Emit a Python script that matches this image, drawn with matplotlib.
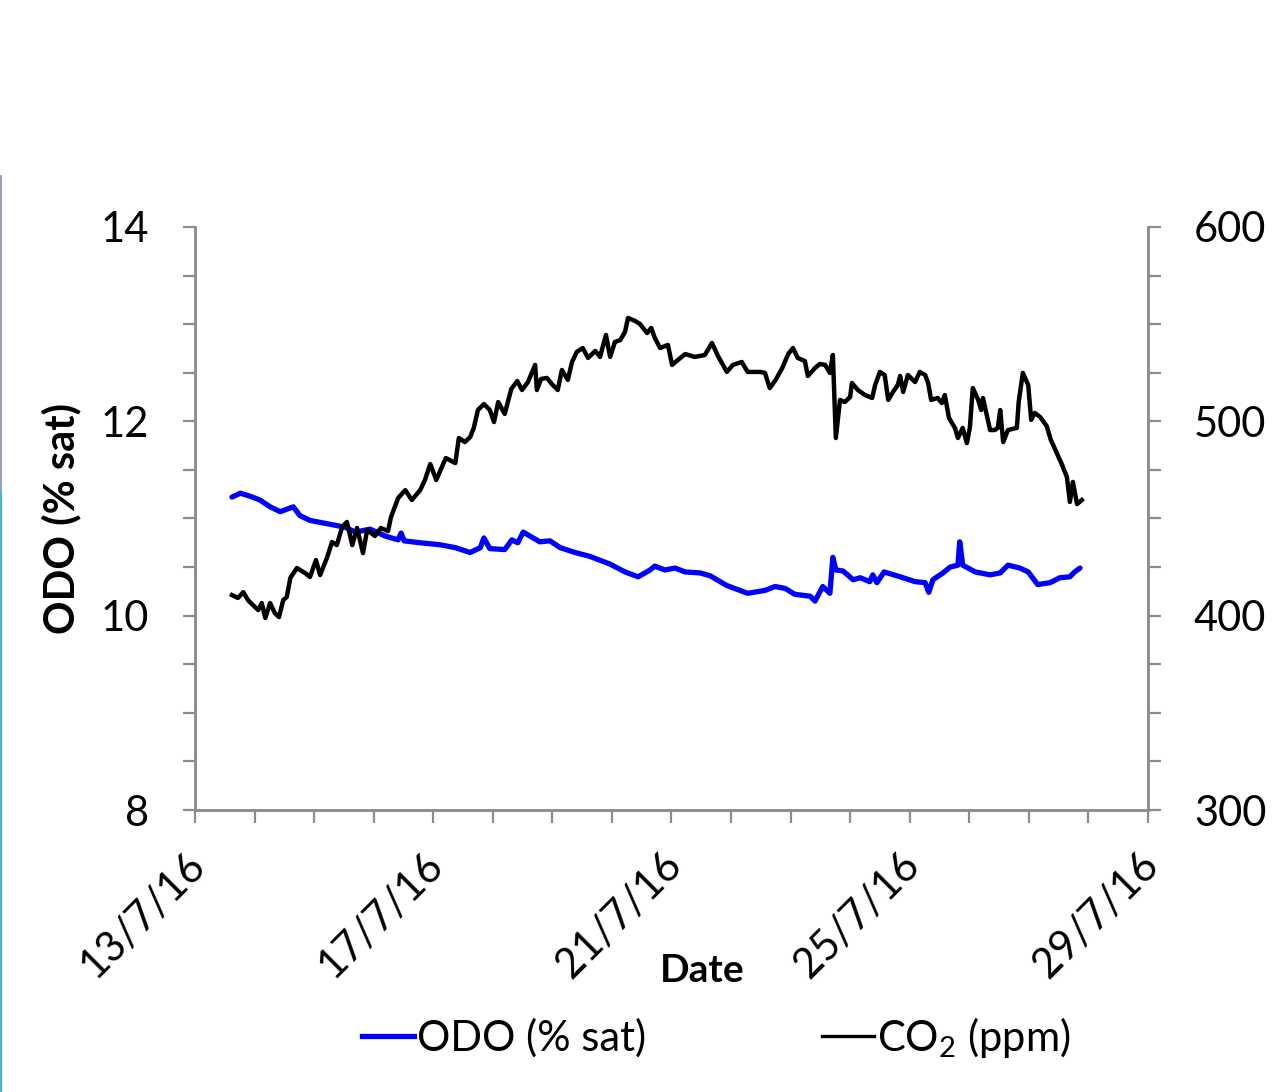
import matplotlib
matplotlib.use("Agg")
import matplotlib.pyplot as plt
import matplotlib.dates as mdates
import matplotlib.transforms as mtransforms
from matplotlib.lines import Line2D
from matplotlib.patches import Rectangle
import pandas as pd

plt.rcParams['font.family'] = ['Lato', 'DejaVu Sans']
plt.rcParams['mathtext.fontset'] = 'custom'
plt.rcParams['mathtext.rm'] = 'Lato'

# day of July 2016 (fractional) and ODO (% sat)
odo_day = [13.62, 13.76, 13.92, 14.09, 14.26, 14.43, 14.65, 14.76, 14.93, 15.10,
           15.27, 15.52, 15.69, 15.94, 16.19, 16.41, 16.46, 16.51, 16.78, 17.11,
           17.37, 17.62, 17.79, 17.85, 17.95, 18.20, 18.32, 18.42, 18.51, 18.62,
           18.79, 18.96, 19.13, 19.38, 19.63, 19.80, 19.97, 20.22, 20.44, 20.64,
           20.72, 20.89, 21.06, 21.23, 21.48, 21.65, 21.93, 22.28, 22.57, 22.74,
           22.91, 23.07, 23.33, 23.41, 23.54, 23.66, 23.71, 23.76, 23.88, 24.05,
           24.17, 24.33, 24.38, 24.45, 24.57, 24.84, 25.09, 25.26, 25.32, 25.39,
           25.56, 25.68, 25.81, 25.84, 25.89, 26.10, 26.35, 26.52, 26.65, 26.85,
           26.99, 27.15, 27.36, 27.52, 27.69, 27.77, 27.86]
odo_val = [11.22, 11.26, 11.23, 11.19, 11.12, 11.07, 11.12, 11.03, 10.98, 10.96,
           10.94, 10.91, 10.86, 10.89, 10.82, 10.78, 10.85, 10.77, 10.75, 10.73,
           10.70, 10.65, 10.70, 10.80, 10.69, 10.68, 10.78, 10.75, 10.86, 10.82,
           10.76, 10.77, 10.70, 10.65, 10.61, 10.57, 10.53, 10.45, 10.40, 10.47,
           10.51, 10.47, 10.49, 10.45, 10.44, 10.41, 10.31, 10.23, 10.26, 10.30,
           10.28, 10.22, 10.20, 10.15, 10.30, 10.23, 10.60, 10.47, 10.46, 10.37,
           10.39, 10.35, 10.42, 10.34, 10.45, 10.40, 10.35, 10.34, 10.24, 10.37,
           10.44, 10.50, 10.52, 10.76, 10.52, 10.45, 10.42, 10.44, 10.52, 10.49,
           10.45, 10.32, 10.34, 10.39, 10.40, 10.45, 10.49]

# day of July 2016 (fractional) and CO2 (ppm)
co2_day = [13.62, 13.72, 13.81, 13.89, 13.97, 14.06, 14.12, 14.18, 14.26, 14.34,
           14.41, 14.48, 14.54, 14.60, 14.71, 14.85, 14.93, 15.03, 15.10, 15.22,
           15.30, 15.38, 15.47, 15.55, 15.64, 15.72, 15.82, 15.89, 16.02, 16.12,
           16.24, 16.29, 16.41, 16.53, 16.64, 16.78, 16.86, 16.95, 17.05, 17.21,
           17.37, 17.43, 17.53, 17.62, 17.68, 17.75, 17.85, 17.95, 18.02, 18.09,
           18.20, 18.31, 18.41, 18.49, 18.59, 18.71, 18.74, 18.81, 18.91, 18.99,
           19.09, 19.16, 19.26, 19.33, 19.41, 19.51, 19.60, 19.72, 19.80, 19.90,
           19.97, 20.05, 20.14, 20.22, 20.27, 20.39, 20.47, 20.59, 20.66, 20.72,
           20.81, 20.94, 21.01, 21.11, 21.23, 21.39, 21.56, 21.68, 21.78, 21.93,
           22.03, 22.18, 22.28, 22.49, 22.57, 22.65, 22.75, 22.86, 22.96, 23.04,
           23.12, 23.24, 23.29, 23.41, 23.49, 23.58, 23.66, 23.71, 23.76, 23.83,
           23.91, 24.00, 24.03, 24.13, 24.25, 24.37, 24.42, 24.50, 24.58, 24.64,
           24.72, 24.80, 24.84, 24.89, 24.97, 25.09, 25.17, 25.26, 25.31, 25.36,
           25.47, 25.54, 25.59, 25.66, 25.76, 25.81, 25.89, 25.96, 26.01, 26.06,
           26.15, 26.20, 26.23, 26.35, 26.43, 26.48, 26.52, 26.57, 26.65, 26.80,
           26.83, 26.90, 26.99, 27.04, 27.10, 27.19, 27.30, 27.37, 27.44, 27.56,
           27.64, 27.69, 27.74, 27.81, 27.89]
co2_val = [410.6, 409.1, 412.1, 408.0, 405.5, 402.9, 406.5, 398.8, 406.5, 401.3,
           399.3, 408.0, 409.6, 419.4, 424.5, 421.9, 419.9, 428.6, 420.9, 430.2,
           437.9, 436.3, 445.6, 448.2, 436.3, 445.1, 432.2, 444.1, 441.0, 445.1,
           443.5, 450.7, 460.5, 464.6, 459.5, 464.6, 469.8, 478.0, 469.8, 481.1,
           478.5, 491.4, 489.3, 491.9, 496.6, 505.8, 508.9, 505.8, 499.6, 509.9,
           503.8, 516.6, 520.7, 516.1, 520.2, 529.0, 516.1, 521.8, 522.3, 519.2,
           516.1, 526.4, 521.3, 530.5, 535.7, 537.7, 532.6, 536.2, 533.1, 544.4,
           533.1, 540.8, 541.8, 546.0, 553.2, 551.6, 550.1, 545.4, 548.0, 542.9,
           537.7, 539.3, 529.0, 531.6, 534.6, 533.1, 534.1, 540.3, 533.6, 525.4,
           529.0, 530.5, 525.4, 525.4, 524.9, 517.1, 521.3, 527.4, 534.6, 537.7,
           532.6, 531.0, 523.3, 527.4, 529.5, 529.0, 524.9, 534.1, 491.4, 511.0,
           509.9, 512.5, 519.7, 516.1, 513.5, 512.0, 518.7, 525.4, 523.8, 511.0,
           515.1, 518.7, 523.3, 515.1, 523.8, 520.2, 525.4, 523.8, 519.7, 511.0,
           512.0, 509.4, 513.5, 501.7, 496.6, 491.4, 496.6, 488.8, 496.6, 517.1,
           511.0, 505.8, 512.0, 495.5, 495.5, 496.6, 505.8, 489.3, 495.5, 496.6,
           509.9, 524.9, 518.7, 500.7, 504.3, 502.2, 497.6, 490.4, 485.7, 477.5,
           471.3, 458.5, 468.8, 457.4, 459.5]


def to_dates(days):
    return pd.Timestamp('2016-07-01') + pd.to_timedelta([d - 1 for d in days], unit='D')


odo_t = to_dates(odo_day)
co2_t = to_dates(co2_day)

fig = plt.figure(figsize=(12.79, 10.92), dpi=100)
ax = fig.add_axes([0.1525, 0.2582, 0.745, 0.534])
ax2 = ax.twinx()

ax.plot(odo_t, odo_val, color='#0000ff', lw=3.8, solid_capstyle='round', zorder=3)
ax2.plot(co2_t, co2_val, color='black', lw=3.2, zorder=3)

ax.set_xlim(pd.Timestamp('2016-07-13'), pd.Timestamp('2016-07-29'))
ax.set_ylim(8, 14)
ax2.set_ylim(300, 600)
ax.set_yticks([8, 10, 12, 14])
ax.set_yticks([8.5, 9, 9.5, 10.5, 11, 11.5, 12.5, 13, 13.5], minor=True)
ax2.set_yticks([300, 400, 500, 600])
ax2.set_yticks([325, 350, 375, 425, 450, 475, 525, 550, 575], minor=True)

ax.xaxis.set_major_locator(mdates.DayLocator(bymonthday=[13, 17, 21, 25, 29]))
ax.xaxis.set_minor_locator(mdates.DayLocator())
ax.xaxis.set_major_formatter(plt.FuncFormatter(
    lambda v, p: (lambda d: f"{d.day}/{d.month}/{d:%y}")(mdates.num2date(v))))

grey = '#8c8c8c'
for a in (ax, ax2):
    a.spines['top'].set_visible(False)
    for s in ('left', 'right', 'bottom'):
        a.spines[s].set_color(grey)
        a.spines[s].set_linewidth(1.8)
    a.tick_params(which='both', color=grey, width=1.6, length=9, labelsize=30)
    a.set_facecolor('none')

ax.tick_params(axis='y', which='both', direction='out', pad=24)
ax2.tick_params(axis='y', which='both', direction='out', pad=24)
ax.tick_params(axis='x', which='both', direction='out', pad=16)
shift = mtransforms.ScaledTranslation(-10 / 100, 0, fig.dpi_scale_trans)
for lbl in ax.get_xticklabels():
    lbl.set_rotation(45)
    lbl.set_ha('right')
    lbl.set_va('top')
    lbl.set_rotation_mode('anchor')
    lbl.set_transform(lbl.get_transform() + shift)

ax.set_ylabel('ODO (% sat)', fontsize=30, fontweight='bold', labelpad=14)
ax.set_xlabel('Date', fontsize=28, fontweight='bold')
ax.xaxis.set_label_coords(0.532, -0.245)

handles = [Line2D([], [], color='#0000ff', lw=3.8),
           Line2D([], [], color='black', lw=2.4)]
fig.legend(handles, ['ODO (% sat)', 'CO$_2$ (ppm)'], loc='center',
           bbox_to_anchor=(0.560, 0.05), ncol=2, frameon=False, fontsize=30,
           handlelength=1.25, handletextpad=0.08, columnspacing=4.2)

# thin coloured strip on the left edge
fig.add_artist(Rectangle((0, 0), 0.0016, 0.55, transform=fig.transFigure,
                         color='#45b6dc', lw=0))
fig.add_artist(Rectangle((0, 0.55), 0.0016, 0.29, transform=fig.transFigure,
                         color='#9aa0b8', lw=0))

fig.savefig('out.png', dpi=100)
